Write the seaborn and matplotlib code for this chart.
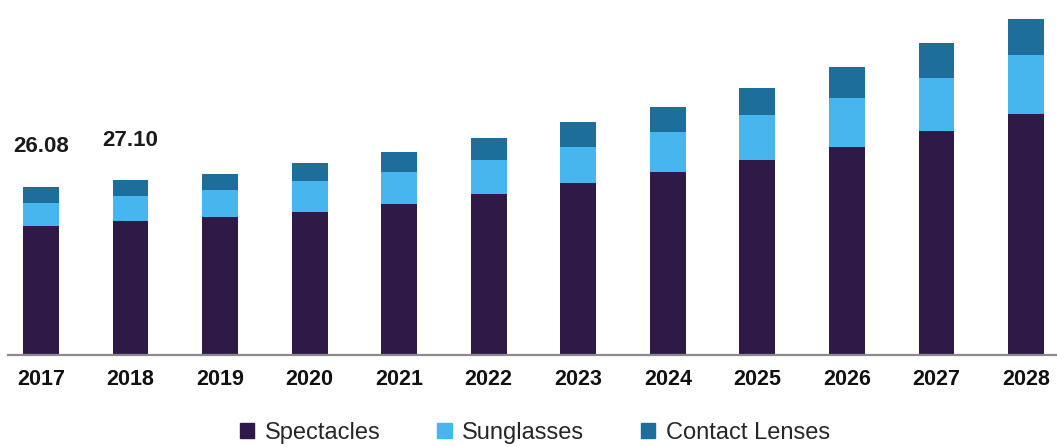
import matplotlib
matplotlib.use("Agg")
import matplotlib.pyplot as plt
from matplotlib.patches import Patch
import numpy as np
import pandas as pd
import seaborn as sns

# Market size by product, USD billion
years = ["2017", "2018", "2019", "2020", "2021", "2022",
         "2023", "2024", "2025", "2026", "2027", "2028"]
spectacles = [20.00, 20.80, 21.4, 22.2, 23.4, 25.0, 26.6, 28.4, 30.2, 32.3, 34.7, 37.3]
sunglasses = [3.60, 3.90, 4.2, 4.7, 5.0, 5.3, 5.6, 6.25, 7.0, 7.5, 8.3, 9.2]
contact_lenses = [2.48, 2.40, 2.5, 2.8, 3.0, 3.3, 3.9, 3.75, 4.2, 4.8, 5.3, 5.6]
labelled_years = ["2017", "2018"]

series_names = ["Spectacles", "Sunglasses", "Contact Lenses"]
colors = ["#2f1a47", "#47b6ee", "#1e6e9c"]

df = pd.DataFrame({
    "year": years,
    "Spectacles": spectacles,
    "Sunglasses": sunglasses,
    "Contact Lenses": contact_lenses,
})
df["lvl1"] = df["Spectacles"]
df["lvl2"] = df["lvl1"] + df["Sunglasses"]
df["lvl3"] = df["lvl2"] + df["Contact Lenses"]

sns.set_theme(style="white")
plt.rcParams["font.family"] = ["Liberation Sans", "DejaVu Sans"]

fig = plt.figure(figsize=(10.57, 4.47), dpi=100)
ax = fig.add_axes([8 / 1057, 92 / 447, 1 - 8 / 1057, 1 - 92 / 447])

# Stacked bars drawn as layered cumulative totals, tallest first
for col, color in zip(["lvl3", "lvl2", "lvl1"], colors[::-1]):
    sns.barplot(data=df, x="year", y=col, color=color, width=0.4,
                saturation=1, ax=ax, order=years, linewidth=0, edgecolor=color)

ax.set_xlim(-0.368, 11.346)
ax.set_ylim(0, 355 / 6.45)

# Totals printed above the first bars
for yr in labelled_years:
    i = years.index(yr)
    total = df.loc[i, "lvl3"]
    ax.text(i, total + 4.6, f"{total:.2f}", ha="center", va="bottom",
            fontsize=16, fontweight="bold", color="#1a1a1a")

ax.set_xlabel("")
ax.set_ylabel("")
ax.set_yticks([])
ax.tick_params(axis="x", length=0, pad=10, labelsize=15.5, labelcolor="#111111")
for lbl in ax.get_xticklabels():
    lbl.set_fontweight("bold")

for side in ["top", "right", "left"]:
    ax.spines[side].set_visible(False)
ax.spines["bottom"].set_color("#8a8a8a")
ax.spines["bottom"].set_linewidth(1.6)

handles = [Patch(facecolor=c, edgecolor=c) for c in colors]
fig.legend(handles, series_names, loc="center", bbox_to_anchor=(535 / 1057, 14 / 447),
           ncol=3, frameon=False, fontsize=17, handlelength=0.6, handleheight=0.6,
           handletextpad=0.45, columnspacing=2.4)

fig.savefig("out.png", dpi=100)
